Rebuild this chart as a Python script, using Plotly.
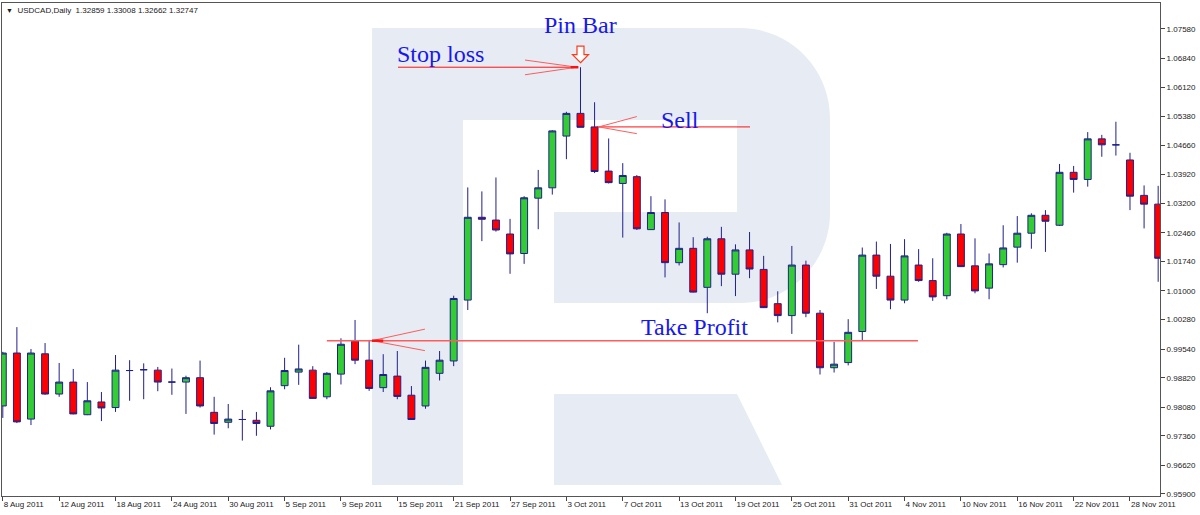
import pandas as pd
import plotly.graph_objects as go

# USDCAD daily bars, 8 Aug 2011 - 30 Nov 2011 (weekdays)
dates = pd.bdate_range("2011-08-08", "2011-11-30")

open_ = [0.9811, 0.9944, 0.9778, 0.9942, 0.9841, 0.9871, 0.9789, 0.9821, 0.9807, 0.9900,
         0.9902, 0.9901, 0.9871, 0.9871, 0.9882, 0.9795, 0.9770, 0.9777, 0.9775, 0.9760,
         0.9862, 0.9896, 0.9901, 0.9834, 0.9891, 0.9974, 0.9926, 0.9857, 0.9886, 0.9838,
         0.9811, 0.9893, 0.9924, 1.0077, 1.0285, 1.0278, 1.0243, 1.0194, 1.0333, 1.0359,
         1.0489, 1.0546, 1.0512, 1.0401, 1.0370, 1.0387, 1.0254, 1.0297, 1.0171, 1.0207,
         1.0109, 1.0231, 1.0142, 1.0203, 1.0154, 1.0068, 1.0038, 1.0165, 1.0044, 0.9907,
         0.9920, 0.9998, 1.0190, 1.0137, 1.0077, 1.0165, 1.0126, 1.0088, 1.0243, 1.0163,
         1.0107, 1.0166, 1.0210, 1.0245, 1.0290, 1.0265, 1.0398, 1.0380, 1.0482, 1.0467,
         1.0429, 1.0340, 1.0318]
high = [0.9947, 1.0009, 0.9954, 0.9969, 0.9919, 0.9904, 0.9871, 0.9846, 0.9939, 0.9926,
        0.9918, 0.9909, 0.9905, 0.9887, 0.9925, 0.9834, 0.9816, 0.9801, 0.9796, 0.9858,
        0.9932, 0.9965, 0.9911, 0.9896, 0.9981, 1.0027, 0.9977, 0.9941, 0.9949, 0.9861,
        0.9925, 0.9949, 1.0088, 1.0360, 1.0350, 1.0385, 1.0281, 1.0338, 1.0404, 1.0504,
        1.0550, 1.0662, 1.0574, 1.0483, 1.0421, 1.0391, 1.0338, 1.0330, 1.0272, 1.0235,
        1.0236, 1.0261, 1.0217, 1.0248, 1.0188, 1.0099, 1.0213, 1.0176, 1.0052, 0.9972,
        1.0029, 1.0209, 1.0224, 1.0218, 1.0230, 1.0205, 1.0182, 1.0246, 1.0268, 1.0232,
        1.0194, 1.0265, 1.0288, 1.0295, 1.0303, 1.0419, 1.0414, 1.0499, 1.0492, 1.0525,
        1.0447, 1.0365, 1.0364]
low = [0.9781, 0.9768, 0.9763, 0.9839, 0.9834, 0.9790, 0.9788, 0.9773, 0.9796, 0.9824,
       0.9828, 0.9848, 0.9839, 0.9791, 0.9807, 0.9739, 0.9755, 0.9724, 0.9736, 0.9752,
       0.9853, 0.9864, 0.9829, 0.9828, 0.9865, 0.9916, 0.9849, 0.9846, 0.9828, 0.9776,
       0.9804, 0.9875, 0.9911, 1.0052, 1.0225, 1.0249, 1.0143, 1.0168, 1.0255, 1.0342,
       1.0431, 1.0511, 1.0396, 1.0370, 1.0234, 1.0253, 1.0253, 1.0134, 1.0164, 1.0096,
       1.0044, 1.0112, 1.0087, 1.0132, 1.0057, 1.0021, 0.9992, 1.0034, 0.9890, 0.9895,
       0.9913, 0.9975, 1.0105, 1.0054, 1.0069, 1.0123, 1.0075, 1.0079, 1.0160, 1.0094,
       1.0079, 1.0159, 1.0171, 1.0206, 1.0198, 1.0263, 1.0347, 1.0362, 1.0437, 1.0440,
       1.0303, 1.0257, 1.0123]
close = [0.9944, 0.9771, 0.9944, 0.9841, 0.9871, 0.9791, 0.9824, 0.9806, 0.9901, 0.9900,
         0.9902, 0.9871, 0.9871, 0.9882, 0.9811, 0.9767, 0.9778, 0.9777, 0.9767, 0.9849,
         0.9900, 0.9904, 0.9830, 0.9893, 0.9966, 0.9926, 0.9855, 0.9890, 0.9835, 0.9777,
         0.9908, 0.9926, 1.0081, 1.0285, 1.0280, 1.0253, 1.0193, 1.0334, 1.0359, 1.0502,
         1.0546, 1.0511, 1.0400, 1.0372, 1.0390, 1.0256, 1.0297, 1.0171, 1.0207, 1.0097,
         1.0231, 1.0142, 1.0203, 1.0155, 1.0058, 1.0038, 1.0165, 1.0044, 0.9907, 0.9916,
         0.9996, 1.0190, 1.0137, 1.0077, 1.0188, 1.0126, 1.0085, 1.0243, 1.0161, 1.0100,
         1.0168, 1.0208, 1.0245, 1.0290, 1.0275, 1.0398, 1.0380, 1.0482, 1.0467, 1.0467,
         1.0338, 1.0318, 1.0182]

tick_labels = ["8 Aug 2011", "12 Aug 2011", "18 Aug 2011", "24 Aug 2011", "30 Aug 2011",
               "5 Sep 2011", "9 Sep 2011", "15 Sep 2011", "21 Sep 2011", "27 Sep 2011",
               "3 Oct 2011", "7 Oct 2011", "13 Oct 2011", "19 Oct 2011", "25 Oct 2011",
               "31 Oct 2011", "4 Nov 2011", "10 Nov 2011", "16 Nov 2011", "22 Nov 2011",
               "28 Nov 2011"]
price_ticks = [0.95900, 0.96620, 0.97360, 0.98080, 0.98820, 0.99540, 1.00280, 1.01000,
               1.01740, 1.02460, 1.03200, 1.03920, 1.04660, 1.05380, 1.06120, 1.06840,
               1.07580]

pin = 41          # 4 Oct 2011 pin bar
sell_bar = 42     # entry bar
take_profit = 0.9975

x = list(range(len(dates)))

W, H = 1200, 515
L, R, T, B = 2, 40, 3, 19
BLUE = "#1717f0"
RED = "#ff1010"
WING = "#ff5c5c"
LOGO = "#e7ebf3"


def paper_path(cmds):
    # pixel path -> paper coordinates (decoration only)
    out = []
    for c, pts in cmds:
        if c == "Z":
            out.append("Z")
            continue
        s = " ".join("%.5f,%.5f" % ((px - L) / (W - L - R), (H - B - py) / (H - T - B))
                     for px, py in pts)
        out.append(c + " " + s)
    return " ".join(out)


logo_body = paper_path([
    ("M", [(372, 485)]), ("L", [(372, 28)]), ("L", [(740, 28)]),
    ("C", [(789.7, 28), (830, 68.3), (830, 118)]), ("L", [(830, 213)]),
    ("C", [(830, 262.7), (789.7, 303), (740, 303)]), ("L", [(554, 303)]),
    ("L", [(554, 212)]), ("L", [(737, 212)]), ("L", [(737, 120)]),
    ("L", [(463, 120)]), ("L", [(463, 485)]), ("Z", []),
])
logo_leg = paper_path([
    ("M", [(554, 394)]), ("L", [(737, 394)]), ("L", [(782, 485)]),
    ("L", [(554, 485)]), ("Z", []),
])

fig = go.Figure(go.Candlestick(
    x=x, open=open_, high=high, low=low, close=close,
    increasing=dict(fillcolor="#32cd32", line=dict(color="#20208c", width=1)),
    decreasing=dict(fillcolor="#ff0000", line=dict(color="#20208c", width=1)),
    whiskerwidth=0, hoverinfo="skip",
))

shapes = [
    dict(type="path", xref="paper", yref="paper", path=logo_body,
         fillcolor=LOGO, line=dict(width=0), layer="below"),
    dict(type="path", xref="paper", yref="paper", path=logo_leg,
         fillcolor=LOGO, line=dict(width=0), layer="below"),
]


def seg(x0, y0, x1, y1, color, width=1):
    shapes.append(dict(type="line", xref="x", yref="y", x0=x0, y0=y0, x1=x1, y1=y1,
                       line=dict(color=color, width=width), layer="above"))


# stop loss at the pin bar high
sl = high[pin]
seg(28.05, sl, pin - 0.25, sl, RED)
seg(pin - 0.25, sl, 37.06, sl + 0.0018, WING)
seg(pin - 0.25, sl, 37.06, sl - 0.0019, WING)
seg(pin - 0.7, sl, pin - 0.15, sl, RED, 2.5)

# sell at the open of the next bar
se = open_[sell_bar]
seg(sell_bar + 0.15, se, 53.03, se, RED)
seg(sell_bar + 0.3, se, 45.0, se + 0.0026, WING)
seg(sell_bar + 0.3, se, 45.0, se - 0.0017, WING)

# take profit
seg(23.0, take_profit, 64.95, take_profit, WING, 1.5)
seg(26.2, take_profit, 29.96, take_profit + 0.0029, WING)
seg(26.2, take_profit, 29.96, take_profit - 0.0025, WING)
seg(26.2, take_profit, 27.0, take_profit, RED, 2.5)

# hollow down arrow above the pin bar
shapes.append(dict(type="path", xref="x", yref="y", xsizemode="pixel", ysizemode="pixel",
                   xanchor=pin, yanchor=high[pin],
                   path="M 0,4.5 L 8,12.5 L 3.5,12.5 L 3.5,21 L -3.5,21 L -3.5,12.5 L -8,12.5 Z",
                   fillcolor="white", line=dict(color="#ff3a1a", width=1.2), layer="above"))

serif = dict(family="Liberation Serif, Times New Roman, serif", size=24, color=BLUE)
annotations = [
    dict(x=31.03, y=1.0694, text="Stop loss"),
    dict(x=pin, y=1.0768, text="Pin Bar"),
    dict(x=48.06, y=1.0530, text="Sell"),
    dict(x=49.06, y=1.0009, text="Take Profit"),
]
for a in annotations:
    a.update(xref="x", yref="y", showarrow=False, font=serif,
             xanchor="center", yanchor="middle")

annotations.append(dict(
    xref="paper", yref="paper", x=0, y=1, xanchor="left", yanchor="top",
    xshift=2, yshift=-1, showarrow=False, align="left",
    text="<span style='font-size:7px'>▼</span>&nbsp;&nbsp;USDCAD,Daily&nbsp;&nbsp;1.32859 1.33008 1.32662 1.32747",
    font=dict(family="Liberation Sans, Arial, sans-serif", size=8, color="#1a1a1a"),
))

axis_font = dict(family="Liberation Sans, Arial, sans-serif", size=8, color="#1a1a1a")
fig.update_layout(
    width=W, height=H,
    margin=dict(l=L, r=R, t=T, b=B),
    paper_bgcolor="white", plot_bgcolor="white",
    showlegend=False,
    shapes=shapes, annotations=annotations,
    boxgap=0.3,
    xaxis=dict(
        range=[-0.057, 82.13], rangeslider=dict(visible=False),
        tickvals=x[::4], ticktext=tick_labels, tickfont=axis_font,
        ticks="outside", ticklen=4, tickcolor="#444", ticklabelposition="outside right",
        showgrid=False, zeroline=False, showline=True, linecolor="#555", linewidth=1,
        mirror=True,
    ),
    yaxis=dict(
        range=[0.95848, 1.08233], side="right",
        tickvals=price_ticks, tickformat=".5f", tickfont=axis_font,
        ticks="outside", ticklen=4, tickcolor="#444",
        showgrid=False, zeroline=False, showline=True, linecolor="#555", linewidth=1,
        mirror=True,
    ),
)

# page body has a default 8px margin; drop it so the figure sits at the window corner
fig.write_html("out.html", config={"displayModeBar": False},
               post_script="document.body.style.margin='0';")
